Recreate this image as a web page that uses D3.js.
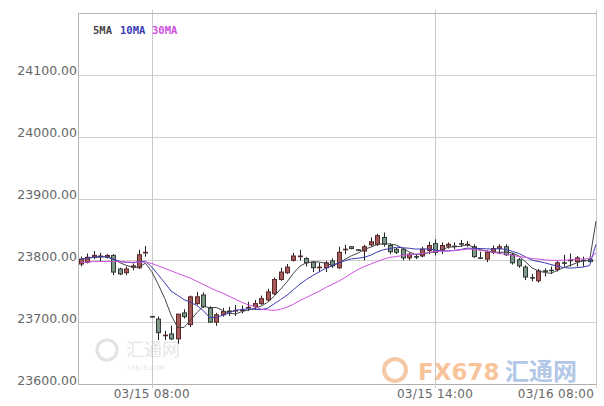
<!DOCTYPE html>
<html><head><meta charset="utf-8">
<script src="https://cdn.jsdelivr.net/npm/d3@7/dist/d3.min.js"></script>
<style>body{margin:0;background:#fff}svg{display:block}</style>
</head><body>
<svg id="c" width="604" height="406"></svg>
<script>
// ---- data ----
const opens  = [23794,23797,23805,23806,23805,23808,23786,23780,23789,23788,23812,23709,23705,23678,23681,23673,23715,23696,23730,23744,23723,23700,23712,23718,23718,23719,23723,23725,23730,23736,23746,23769,23780,23800,23806,23803,23797,23788,23788,23799,23788,23817,23822,23817,23815,23825,23826,23837,23824,23818,23818,23804,23806,23807,23816,23827,23816,23823,23823,23827,23825,23822,23804,23802,23813,23819,23822,23809,23801,23789,23772,23767,23783,23784,23785,23796,23800,23798,23800,23801,23800];
const highs  = [23806,23811,23815,23812,23810,23810,23788,23790,23795,23817,23823,23710,23709,23686,23694,23713,23721,23743,23749,23748,23726,23715,23723,23725,23728,23727,23733,23736,23743,23754,23772,23788,23794,23812,23817,23805,23799,23796,23799,23803,23822,23825,23823,23818,23825,23837,23843,23845,23827,23820,23820,23812,23810,23822,23830,23834,23829,23829,23829,23833,23831,23826,23814,23816,23824,23826,23826,23812,23804,23792,23778,23786,23787,23790,23799,23809,23811,23807,23806,23803,24120];
const lows   = [23790,23795,23802,23798,23803,23776,23776,23776,23784,23786,23806,23708,23671,23671,23671,23665,23706,23692,23728,23723,23699,23694,23709,23710,23710,23714,23718,23720,23728,23733,23744,23767,23778,23798,23800,23790,23781,23781,23781,23788,23786,23810,23818,23816,23800,23822,23823,23822,23810,23810,23800,23800,23802,23805,23810,23808,23810,23819,23818,23822,23822,23804,23803,23797,23810,23810,23807,23793,23788,23768,23766,23764,23774,23778,23782,23790,23790,23790,23790,23796,23798];
const closes = [23802,23805,23808,23807,23808,23781,23778,23786,23791,23809,23813,23709,23683,23679,23673,23713,23709,23741,23741,23725,23700,23712,23717,23718,23719,23720,23724,23730,23738,23749,23769,23781,23789,23807,23807,23796,23788,23789,23796,23791,23813,23818,23819,23817,23822,23830,23840,23826,23814,23813,23804,23810,23806,23818,23824,23813,23824,23826,23823,23827,23826,23806,23804,23813,23819,23822,23809,23796,23791,23773,23772,23783,23783,23784,23796,23796,23800,23804,23800,23798,24115];
// 30MA line as drawn in the reference
const ma30 = [23797,23797,23798,23798,23798,23798,23798,23797,23797,23797,23797,23795,23791,23787,23783,23779,23775,23771,23766,23761,23756,23751,23747,23742,23737,23732,23728,23725,23721,23720,23719,23721,23724,23729,23735,23740,23745,23750,23756,23761,23766,23772,23779,23785,23790,23794,23798,23802,23805,23806,23808,23809,23810,23811,23813,23814,23815,23815,23816,23817,23818,23818,23816,23815,23813,23811,23810,23808,23806,23805,23803,23802,23801,23800,23800,23800,23801,23802,23802,23803,23812];
const yTicks = [23600,23700,23800,23900,24000,24100];
const xTickIndex  = [11,55,80];
const xTickLabels = ["03/15 08:00","03/15 14:00","03/16 08:00"];
const maPeriods = [5,10];
const maNames   = ["5MA","10MA","30MA"];
const maColors  = ["#444444","#3c3cb4","#d050e0"];

// ---- layout ----
const svg = d3.select("#c");
const L = 78, R = 597, T = 13, B = 384;
const n = closes.length;
const x = d3.scaleLinear().domain([0, n-1]).range([81, 596]);
const y = d3.scaleLinear().domain([23600, 24200]).range([B, T]);

// watermarks
const wm = svg.append("g");
wm.append("circle").attr("cx",107).attr("cy",350).attr("r",10).attr("fill","none").attr("stroke","#e2e2e2").attr("stroke-width",3);
wm.append("text").attr("x",126).attr("y",356).attr("font-family","Noto Sans CJK SC").attr("font-size",18).attr("fill","#e6e6e6").text("汇通网");
wm.append("text").attr("x",127).attr("y",370).attr("font-family","DejaVu Sans").attr("font-size",6.5).attr("fill","#e6e6e6").text("FX678.COM");
wm.append("circle").attr("cx",395).attr("cy",370).attr("r",11).attr("fill","none").attr("stroke","#f6c9a6").attr("stroke-width",4);
wm.append("text").attr("x",418).attr("y",380).attr("font-family","DejaVu Sans").attr("font-weight","bold").attr("font-size",23).attr("fill","#f8c49c").text("FX678");
wm.append("text").attr("x",505).attr("y",380).attr("font-family","Noto Sans CJK SC").attr("font-weight","bold").attr("font-size",24).attr("fill","#b3c8e6").text("汇通网");

// grid
const g = svg.append("g");
g.selectAll("line.h").data(yTicks).join("line")
  .attr("x1",L).attr("x2",R).attr("y1",d=>Math.round(y(d))+0.5).attr("y2",d=>Math.round(y(d))+0.5)
  .attr("stroke",d=>d===23600?"#b0b0b0":"#cfcfcf");
g.selectAll("line.v").data(xTickIndex).join("line")
  .attr("x1",d=>Math.round(x(d))+0.5).attr("x2",d=>Math.round(x(d))+0.5).attr("y1",T-3).attr("y2",B+4)
  .attr("stroke","#c8c8c8");
g.append("line").attr("x1",L).attr("x2",R).attr("y1",T+0.5).attr("y2",T+0.5).attr("stroke","#b8b8b8");
g.append("line").attr("x1",L+0.5).attr("x2",L+0.5).attr("y1",T).attr("y2",B).attr("stroke","#b8b8b8");

// y labels
svg.selectAll("text.yl").data(yTicks).join("text")
  .attr("x",77).attr("y",d=>y(d)+0.5).attr("text-anchor","end")
  .attr("font-family","DejaVu Sans").attr("font-size",12.5).attr("fill","#666")
  .text(d=>d3.format(".2f")(d));
// x labels
svg.selectAll("text.xl").data(xTickIndex).join("text")
  .attr("x",(d,i)=>Math.min(x(d), 556)).attr("y",398).attr("text-anchor","middle")
  .attr("font-family","DejaVu Sans").attr("font-size",12).attr("letter-spacing",0.3).attr("fill","#666")
  .text((d,i)=>xTickLabels[i]);

// candles (the latest bar is not drawn in the reference)
const idx = d3.range(n-1);
const cg = svg.append("g");
const w = 5;
cg.selectAll("line.wick").data(idx).join("line")
  .attr("x1",i=>Math.round(x(i))+0.5).attr("x2",i=>Math.round(x(i))+0.5)
  .attr("y1",i=>y(highs[i])).attr("y2",i=>y(lows[i]))
  .attr("stroke","#222").attr("stroke-width",1);
cg.selectAll("rect").data(idx).join("rect")
  .attr("x",i=>Math.round(x(i))-2+0.5)
  .attr("y",i=>y(Math.max(opens[i],closes[i])))
  .attr("width",w-1)
  .attr("height",i=>Math.max(0.5, Math.abs(y(opens[i])-y(closes[i]))))
  .attr("fill",i=>closes[i]>opens[i]?"#a55a5a":(closes[i]<opens[i]?"#7e9888":"#222"))
  .attr("stroke",i=>closes[i]>opens[i]?"#5a2626":"#2f3a35").attr("stroke-width",1);

// moving averages
const lineGen = d3.line().x(d=>x(d[0])).y(d=>y(d[1]));
const maSeries = maPeriods.map(p => closes.map((c,i)=>[i, d3.mean(closes.slice(Math.max(0,i-p+1), i+1))]));
maSeries.push(ma30.map((v,i)=>[i, v]));
maSeries.forEach((pts,k)=>{
  svg.append("path").attr("d",lineGen(pts)).attr("fill","none")
    .attr("stroke",maColors[k]).attr("stroke-width",1);
});

// legend
const lx = [93,120,152];
svg.selectAll("text.lg").data(maNames).join("text")
  .attr("x",(d,i)=>lx[i]).attr("y",34)
  .attr("font-family","DejaVu Sans Mono").attr("font-size",10.5).attr("font-weight","bold")
  .attr("fill",(d,i)=>maColors[i])
  .text(d=>d);
</script>
</body></html>
